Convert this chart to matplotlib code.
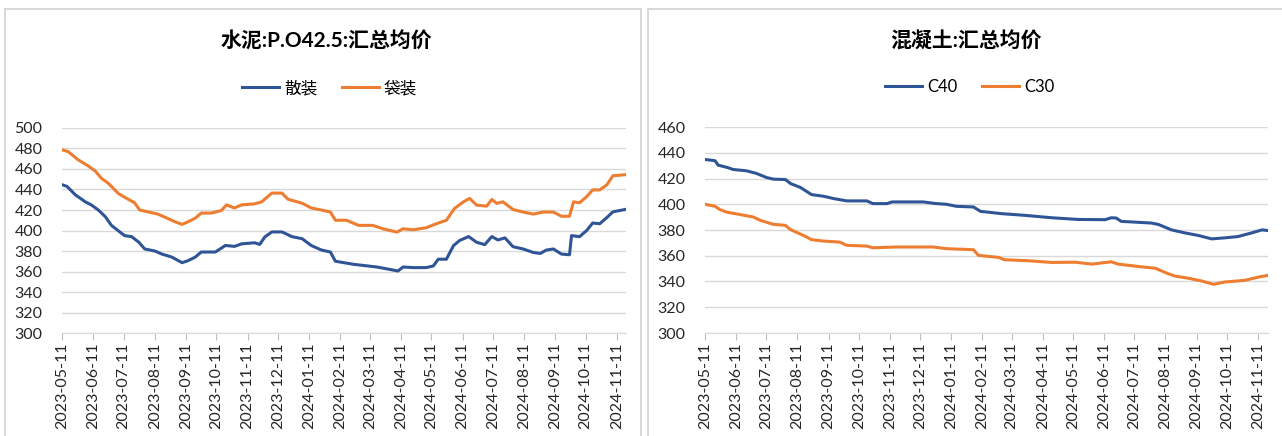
import numpy as np
import pandas as pd
import matplotlib
matplotlib.use('Agg')
import matplotlib.pyplot as plt
import matplotlib.dates as mdates
from matplotlib.patches import Rectangle

plt.rcParams['font.family'] = ['Lato', 'Noto Sans CJK SC', 'DejaVu Sans']

start = pd.Timestamp('2023-05-11')

# 水泥 P.O42.5 散装 (days since 2023-05-11, price)
bulk_days = [0, 5, 13, 23, 29, 36, 43, 49, 56, 62, 69, 76, 82, 92, 99, 109, 119, 125,
             132, 138, 152, 162, 171, 178, 191, 196, 201, 208, 218, 228, 238, 247, 257,
             266, 271, 289, 312, 325, 333, 338, 348, 361, 368, 373, 381, 388, 394, 403,
             411, 419, 426, 432, 439, 447, 457, 467, 474, 480, 487, 495, 503, 505, 513,
             520, 526, 533, 540, 546, 558]
bulk_vals = [444.7, 443, 435, 428, 425, 420, 413.4, 405, 399.6, 395, 394, 388.7, 382, 380,
             377, 374, 368.6, 370.6, 374, 379, 379, 385.4, 384.5, 387, 388, 386.4, 393.7,
             398.6, 398.6, 394, 392, 385.4, 381, 379, 370, 367, 364.4, 362, 360.5, 364.4,
             363.8, 363.8, 365.4, 372, 372, 385.2, 390.2, 394.1, 388.5, 386.2, 394.1,
             390.8, 392.8, 384.2, 382, 378.6, 377.6, 380.9, 382, 377, 376.3, 395, 394,
             400, 407.3, 406.6, 412.6, 418.2, 420.5]

# 水泥 P.O42.5 袋装
bag_days = [0, 6, 16, 26, 33, 39, 46, 56, 62, 72, 77, 86, 95, 102, 112, 119, 125, 132,
            138, 148, 158, 163, 171, 178, 191, 198, 208, 218, 224, 238, 247, 257, 266,
            271, 282, 294, 308, 318, 332, 338, 348, 361, 371, 381, 389, 398, 404, 411,
            421, 426, 431, 437, 447, 457, 467, 477, 487, 495, 503, 507, 513, 520, 526,
            533, 540, 546, 558]
bag_vals = [478.7, 477, 469, 463, 458, 451, 446, 436, 432.5, 427, 420, 418, 416, 413,
            408.5, 406, 408.5, 412, 417, 417, 419.5, 425, 422, 425, 426, 428, 436.5,
            436.5, 430.5, 426.6, 422, 420, 418, 410, 410, 405, 405, 401.7, 398.4, 401.7,
            400.7, 402.7, 406.6, 410, 421.5, 428, 431.3, 424.7, 423.8, 430.3, 426.4, 428,
            420.5, 418, 416, 418, 418, 413.9, 413.9, 428, 427, 433, 439.6, 439.6, 444.5,
            453.4, 454.4]

# 混凝土 C40
c40_days = [0, 10, 13, 22, 28, 41, 51, 61, 68, 80, 85, 95, 106, 118, 128, 141, 161,
            167, 181, 186, 217, 230, 240, 250, 267, 274, 295, 318, 345, 371, 398, 404,
            409, 414, 428, 444, 451, 464, 477, 491, 504, 517, 530, 544, 554, 560]
c40_vals = [434.8, 433.8, 430.4, 428.6, 427, 426, 424, 420.8, 419.5, 419.2, 416.1, 413,
            407.5, 406.2, 404.4, 402.6, 402.6, 400.5, 400.5, 401.8, 401.8, 400.5, 400,
            398.4, 397.9, 394.5, 392.7, 391.4, 389.5, 388.2, 388, 389.5, 389.3, 386.7,
            386.1, 385.4, 384.3, 380.1, 377.8, 375.7, 373.1, 373.9, 374.9, 377.8, 380.1,
            379.6]

# 混凝土 C30
c30_days = [0, 10, 15, 22, 35, 48, 55, 68, 80, 85, 98, 106, 118, 134, 141, 161, 167,
            191, 227, 240, 267, 272, 292, 298, 322, 345, 368, 385, 404, 411, 434, 448,
            458, 467, 481, 494, 506, 517, 537, 551, 560]
c30_vals = [400, 398.4, 395.8, 393.8, 392, 390.1, 387.5, 384.4, 383.6, 380.3, 375.8,
            372.5, 371.4, 370.6, 368.1, 367.5, 366.2, 366.8, 366.8, 365.5, 364.7, 360.3,
            358.7, 356.9, 356.1, 354.8, 355, 353.5, 355.3, 353.5, 351.4, 350.3, 346.9,
            344.3, 342.5, 340.4, 337.8, 339.6, 340.9, 343.5, 344.8]

month_ticks = pd.date_range('2023-05-01', '2024-11-01', freq='MS') + pd.Timedelta(days=10)


def to_dates(days):
    return start + pd.to_timedelta(days, unit='D')


blue = '#2F5597'
orange = '#ED7D31'
grid_c = '#D9D9D9'

fig = plt.figure(figsize=(12.82, 4.36), dpi=100)

# panel frames
for x0, w in [(5, 636), (648, 640)]:
    fig.patches.append(Rectangle((x0 / 1282, -0.05), w / 1282, 1 - 9 / 436 + 0.05,
                                 transform=fig.transFigure, fill=False,
                                 edgecolor=grid_c, lw=1.5))


def style_axes(ax, ymin, ymax, xend):
    ax.set_ylim(ymin, ymax)
    ax.set_yticks(np.arange(ymin, ymax + 1, 20))
    ax.set_xlim(start, start + pd.Timedelta(days=xend))
    ax.set_xticks(month_ticks)
    ax.xaxis.set_major_formatter(mdates.DateFormatter('%Y-%m-%d'))
    for lab in ax.get_xticklabels():
        lab.set_rotation(90)
    ax.grid(axis='y', color=grid_c, lw=1)
    ax.set_axisbelow(True)
    for s in ['top', 'right', 'left']:
        ax.spines[s].set_visible(False)
    ax.spines['bottom'].set_color(grid_c)
    ax.tick_params(axis='y', length=0, labelsize=11.5, labelcolor='#262626', pad=14)
    ax.tick_params(axis='x', length=5, color='#BFBFBF', labelsize=11.5,
                   labelcolor='#262626', pad=2)


# left: cement
ax1 = fig.add_axes([62 / 1282, 1 - 333 / 436, 564 / 1282, 205 / 436])
ax1.plot(to_dates(bulk_days), bulk_vals, color=blue, lw=2.2, label='散装')
ax1.plot(to_dates(bag_days), bag_vals, color=orange, lw=2.2, label='袋装')
style_axes(ax1, 300, 500, 559)
ax1.legend(loc='center', bbox_to_anchor=(0.475, 1.195), ncol=2, frameon=False,
           fontsize=12, handlelength=2.2, columnspacing=1.5, handletextpad=0.3)
fig.text(326 / 1282, 1 - 42 / 436, '水泥:P.O42.5:汇总均价', ha='center', va='center',
         fontsize=15, fontweight='bold')

# right: concrete
ax2 = fig.add_axes([705 / 1282, 1 - 333 / 436, 563 / 1282, 206 / 436])
ax2.plot(to_dates(c40_days), c40_vals, color=blue, lw=2.2, label='C40')
ax2.plot(to_dates(c30_days), c30_vals, color=orange, lw=2.2, label='C30')
style_axes(ax2, 300, 460, 560)
ax2.legend(loc='center', bbox_to_anchor=(0.47, 1.195), ncol=2, frameon=False,
           fontsize=12, handlelength=2.2, columnspacing=1.5, handletextpad=0.3)
fig.text(966 / 1282, 1 - 42 / 436, '混凝土:汇总均价', ha='center', va='center',
         fontsize=15, fontweight='bold')

fig.savefig('out.png', dpi=100)
